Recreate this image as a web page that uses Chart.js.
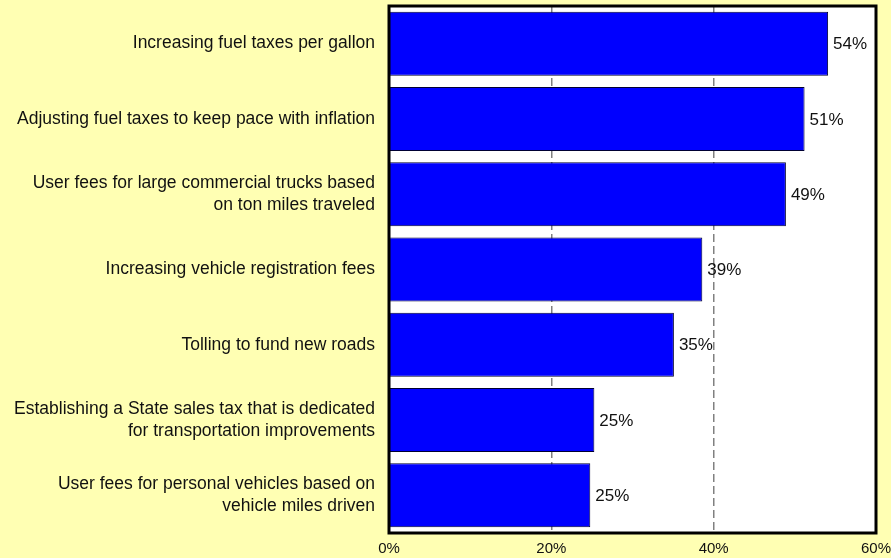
<!DOCTYPE html>
<html>
<head>
<meta charset="utf-8">
<script src="https://cdn.jsdelivr.net/npm/chart.js@4.4.1/dist/chart.umd.min.js"></script>
<style>
  html, body { margin: 0; padding: 0; background: #FFFFB3; }
  #wrap { width: 891px; height: 558px; }
</style>
</head>
<body>
<div id="wrap"><canvas id="chart" width="891" height="558"></canvas></div>
<script>
// Survey categories (multi-line labels as in the original)
var categories = [
  "Increasing fuel taxes per gallon",
  "Adjusting fuel taxes to keep pace with inflation",
  ["User fees for large commercial trucks based", "on ton miles traveled"],
  "Increasing vehicle registration fees",
  "Tolling to fund new roads",
  ["Establishing a State sales tax that is dedicated", "for transportation improvements"],
  ["User fees for personal vehicles based on", "vehicle miles driven"]
];

// Share of support, percent
var support = [54.1, 51.2, 48.9, 38.6, 35.1, 25.3, 24.8];

// X axis ticks
var xTicks = [0, 20, 40, 60];

// white plot area + black frame
var plotFrame = {
  id: "plotFrame",
  beforeDraw: function (chart) {
    var a = chart.chartArea, ctx = chart.ctx;
    ctx.save();
    ctx.fillStyle = "#FFFFFF";
    ctx.fillRect(a.left, a.top, a.right - a.left, a.bottom - a.top);
    ctx.restore();
  },
  afterDatasetsDraw: function (chart) {
    var a = chart.chartArea, ctx = chart.ctx;
    ctx.save();
    ctx.strokeStyle = "#000000";
    ctx.lineWidth = 3;
    ctx.strokeRect(a.left, a.top, a.right - a.left, a.bottom - a.top);
    ctx.restore();
  }
};

// value labels at the end of each bar
var valueLabels = {
  id: "valueLabels",
  afterDatasetsDraw: function (chart) {
    var ctx = chart.ctx;
    var meta = chart.getDatasetMeta(0);
    ctx.save();
    ctx.font = "17px 'Liberation Sans', Arial, sans-serif";
    ctx.fillStyle = "#111111";
    ctx.textAlign = "left";
    ctx.textBaseline = "middle";
    meta.data.forEach(function (bar, i) {
      ctx.fillText(Math.round(support[i]) + "%", bar.x + 5, bar.y + 1);
    });
    ctx.restore();
  }
};

var ctx = document.getElementById("chart").getContext("2d");
new Chart(ctx, {
  type: "bar",
  data: {
    labels: categories,
    datasets: [{
      data: support,
      backgroundColor: "#0000FF",
      borderColor: "#000033",
      borderWidth: 1,
      barPercentage: 0.85,
      categoryPercentage: 1.0
    }]
  },
  options: {
    indexAxis: "y",
    responsive: false,
    animation: false,
    layout: { padding: { top: 6, right: 15, left: 0, bottom: 0 } },
    plugins: {
      legend: { display: false },
      tooltip: { enabled: false }
    },
    scales: {
      x: {
        min: 0,
        max: 60,
        afterBuildTicks: function (axis) {
          axis.ticks = xTicks.map(function (v) { return { value: v }; });
        },
        afterFit: function (axis) {
          axis.height = 25;
          axis.paddingLeft = 0;
          axis.paddingRight = 0;
        },
        grid: {
          color: "#808080",
          lineWidth: 1.5,
          drawTicks: false
        },
        border: { display: false, dash: [8, 4] },
        ticks: {
          padding: 7,
          color: "#111111",
          font: { family: "'Liberation Sans', Arial, sans-serif", size: 15 },
          maxRotation: 0,
          callback: function (v) { return v + "%"; }
        }
      },
      y: {
        afterFit: function (axis) {
          axis.width = 389;
          axis.paddingTop = 0;
          axis.paddingBottom = 0;
        },
        grid: { display: false, drawTicks: false },
        border: { display: false },
        ticks: {
          padding: 14,
          color: "#111111",
          font: { family: "'Liberation Sans', Arial, sans-serif", size: 17.5, lineHeight: 1.27 }
        }
      }
    }
  },
  plugins: [plotFrame, valueLabels]
});
</script>
</body>
</html>
